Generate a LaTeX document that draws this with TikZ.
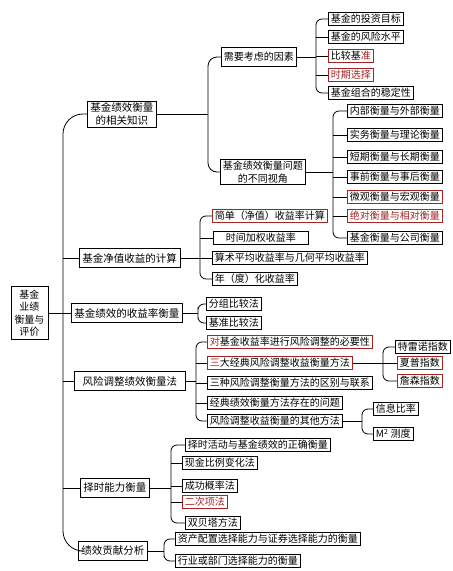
\documentclass[tikz,border=0pt]{standalone}
\usepackage{fontspec}
\newfontfamily\cjk{Noto Sans CJK SC}
\usepackage{tikz}
\definecolor{markred}{RGB}{165,35,35}

\begin{document}
\begin{tikzpicture}[
        x=1pt, y=-1pt,
        every node/.style={font=\cjk\fontsize{10}{12.5}\selectfont},
        box/.style={rectangle, draw=black, line width=0.9pt, fill=white, inner xsep=2.5pt, inner ysep=0pt, minimum height=13pt, anchor=west},
        rbox/.style={box, draw=markred},
        mid/.style={box, minimum height=19pt},
        head/.style={box, minimum height=19pt, inner xsep=3pt, font=\cjk\fontsize{10.5}{12.5}\selectfont},
        link/.style={line width=0.8pt, draw=black},
        brace/.style={link, rounded corners=6pt}
        ]
        \useasboundingbox (0,0) rectangle (453,571);

        % root and first level
        \node[box, anchor=center, align=center, minimum width=37pt, minimum height=53pt, inner xsep=1pt] (root) at (29.5,313) {基金\\业绩\\衡量与\\评价};
        \node[head, align=center, minimum height=26pt, inner ysep=1pt] (know) at (87,114) {基金绩效衡量\\的相关知识};
        \node[head] (nav) at (79,258) {基金净值收益的计算};
        \node[head] (ret) at (71,313) {基金绩效的收益率衡量};
        \node[head, minimum width=111pt] (risk) at (74,381) {风险调整绩效衡量法};
        \node[head] (timing) at (80,488) {择时能力衡量};
        \node[head] (attr) at (78,551) {绩效贡献分析};

        % related knowledge
        \node[mid] (factor) at (221,57) {需要考虑的因素};
        \node[box, align=center, minimum height=25pt, inner ysep=1pt] (view) at (220,172) {基金绩效衡量问题\\的不同视角};

        \node[box] (f1) at (328,19) {基金的投资目标};
        \node[box] (f2) at (328,37) {基金的风险水平};
        \node[rbox] (f3) at (328,56) {比较基{\color{markred}准}};
        \node[rbox, text=markred] (f4) at (328,75) {时期选择};
        \node[box] (f5) at (328,93) {基金组合的稳定性};

        \node[box] (g1) at (347,111) {内部衡量与外部衡量};
        \node[box] (g2) at (347,135) {实务衡量与理论衡量};
        \node[box] (g3) at (347,157) {短期衡量与长期衡量};
        \node[box] (g4) at (347,177) {事前衡量与事后衡量};
        \node[rbox] (g5) at (347,197) {微观衡量与宏观衡量};
        \node[rbox, text=markred] (g6) at (347,216) {绝对衡量与相对衡量};
        \node[box] (g7) at (347,238) {基金衡量与公司衡量};

        % net value returns
        \node[rbox] (h1) at (212,216) {简单（净值）收益率计算};
        \node[box, minimum width=95pt] (h2) at (213,238) {时间加权收益率};
        \node[box] (h3) at (212,258) {算术平均收益率与几何平均收益率};
        \node[box] (h4) at (212,279) {年（度）化收益率};

        % return measures
        \node[box] (k1) at (206,304) {分组比较法};
        \node[box] (k2) at (206,323) {基准比较法};

        % risk adjusted
        \node[rbox] (m1) at (207,342) {{\color{markred}对}基金收益率进行风险调整的必要性};
        \node[rbox] (m2) at (207,363) {{\color{markred}三}大经典风险调整收益衡量方法};
        \node[box] (m3) at (207,383) {三种风险调整衡量方法的区别与联系};
        \node[box] (m4) at (207,403) {经典绩效衡量方法存在的问题};
        \node[box] (m5) at (207,421) {风险调整收益衡量的其他方法};

        \node[box] (p1) at (395,347) {特雷诺指数};
        \node[rbox] (p2) at (397,363) {夏普指数};
        \node[rbox] (p3) at (397,381) {詹森指数};

        \node[box] (q1) at (373,409) {信息比率};
        \node[box] (q2) at (373,434) {M\textsuperscript{2} 测度};

        % timing
        \node[box] (r1) at (185,445) {择时活动与基金绩效的正确衡量};
        \node[box] (r2) at (182,463) {现金比例变化法};
        \node[box] (r3) at (182,486) {成功概率法};
        \node[rbox, text=markred] (r4) at (182,502) {二次项法};
        \node[box] (r5) at (185,523) {双贝塔方法};

        % attribution
        \node[box] (s1) at (175,539) {资产配置选择能力与证券选择能力的衡量};
        \node[box] (s2) at (175,561) {行业或部门选择能力的衡量};

        % junctions
        \coordinate (tr) at (63,313);
        \coordinate (jk) at (208,114);
        \coordinate (jf) at (316,57);
        \coordinate (jg) at (333,172);
        \coordinate (jn) at (200,258);
        \coordinate (jr) at (198,313);
        \coordinate (jm) at (196,381);
        \coordinate (jp) at (383,363);
        \coordinate (jq) at (362,421);
        \coordinate (jt) at (171,488);
        \coordinate (js) at (164,551);

        % trunk
        \draw[link, rounded corners=20pt] (know.west) -| (tr) |- (attr.west);
        \draw[link] (root.east) -- (ret.west);
        \foreach \c in {nav,risk,timing}
            \draw[link] (tr |- \c.west) -- (\c.west);

        % brackets
        \draw[link] (know.east) -- (jk);
        \draw[brace, rounded corners=9pt] (factor.west) -| (jk) |- (view.west);

        \draw[link] (factor.east) -- (jf);
        \draw[brace] (f1.west) -| (jf) |- (f5.west);
        \foreach \c in {f2,f3,f4}
            \draw[link] (jf |- \c.west) -- (\c.west);

        \draw[link] (view.east) -- (jg);
        \draw[brace] (g1.west) -| (jg) |- (g7.west);
        \foreach \c in {g2,g3,g4,g5,g6}
            \draw[link] (jg |- \c.west) -- (\c.west);

        \draw[link] (nav.east) -- (jn);
        \draw[brace] (h1.west) -| (jn) |- (h4.west);
        \foreach \c in {h2,h3}
            \draw[link] (jn |- \c.west) -- (\c.west);

        \draw[link] (ret.east) -- (jr);
        \draw[brace] (k1.west) -| (jr) |- (k2.west);

        \draw[link] (risk.east) -- (jm);
        \draw[brace] (m1.west) -| (jm) |- (m5.west);
        \foreach \c in {m2,m3,m4}
            \draw[link] (jm |- \c.west) -- (\c.west);

        \draw[link] (m2.east) -- (jp);
        \draw[brace] (p1.west) -| (jp) |- (p3.west);
        \draw[link] (jp |- p2.west) -- (p2.west);

        \draw[link] (m5.east) -- (jq);
        \draw[brace] (q1.west) -| (jq) |- (q2.west);

        \draw[link] (timing.east) -- (jt);
        \draw[brace] (r1.west) -| (jt) |- (r5.west);
        \foreach \c in {r2,r3,r4}
            \draw[link] (jt |- \c.west) -- (\c.west);

        \draw[link] (attr.east) -- (js);
        \draw[brace] (s1.west) -| (js) |- (s2.west);

    \end{tikzpicture}
\end{document}
